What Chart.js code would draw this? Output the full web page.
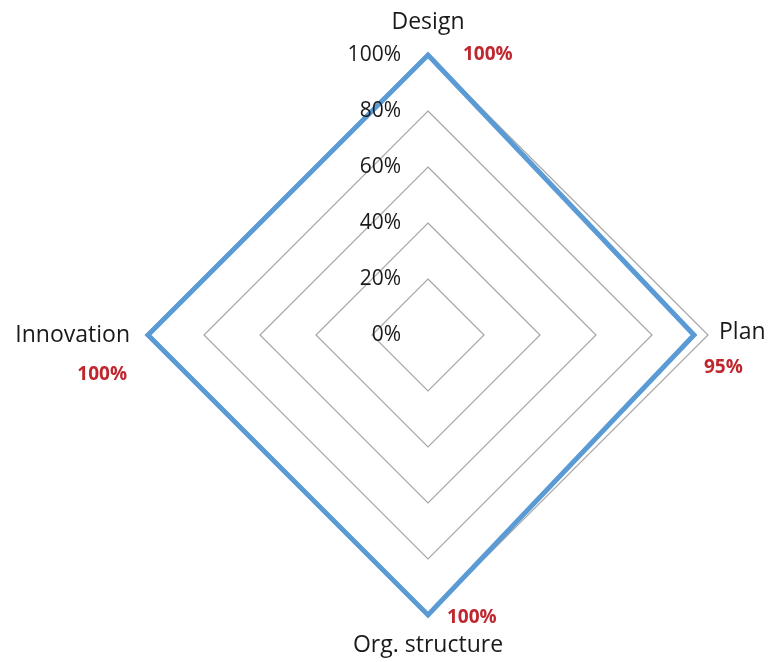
<!DOCTYPE html>
<html>
<head>
<meta charset="utf-8">
<script src="https://cdn.jsdelivr.net/npm/chart.js@4/dist/chart.umd.min.js"></script>
<style>
html,body{margin:0;padding:0;background:#fff;}
#wrap{width:769px;height:662px;position:relative;}
</style>
</head>
<body>
<div id="wrap"><canvas id="c" width="769" height="662"></canvas></div>
<script>
const categories = ["Design", "Plan", "Org. structure", "Innovation"];
const seriesValues = [100, 95, 100, 100];
const valueLabels = ["100%", "95%", "100%", "100%"];
const tickValues = [0, 20, 40, 60, 80, 100];
const tickLabels = ["0%", "20%", "40%", "60%", "80%", "100%"];

const FONT = "'Open Sans', 'Liberation Sans', sans-serif";

const textPlugin = {
  id: 'textPlugin',
  afterDraw(chart) {
    const ctx = chart.ctx;
    const s = chart.scales.r;
    ctx.save();
    // tick labels, right-aligned left of the center axis
    ctx.font = "21px " + FONT;
    ctx.fillStyle = "#1a1a1a";
    ctx.textAlign = "right";
    ctx.textBaseline = "middle";
    tickValues.forEach((v, i) => {
      const d = s.getDistanceFromCenterForValue(v);
      ctx.fillText(tickLabels[i], s.xCenter - 27, s.yCenter - d);
    });
    // category labels
    const catOff = [[0, -33, 'center'], [11, -3, 'left'], [0, 30, 'center'], [-18, 0, 'right']];
    ctx.font = "23px " + FONT;
    ctx.fillStyle = "#1a1a1a";
    categories.forEach((c, i) => {
      const p = s.getPointPosition(i, s.drawingArea);
      const o = catOff[i];
      ctx.textAlign = o[2];
      ctx.fillText(c, p.x + o[0], p.y + o[1]);
    });
    // value labels
    const valOff = [[35, 0, 'left'], [10, 33, 'left'], [19, 3, 'left'], [-21, 40, 'right']];
    ctx.font = "bold 19px " + FONT;
    ctx.fillStyle = "#C0262D";
    valueLabels.forEach((t, i) => {
      const p = s.getPointPosition(i, s.getDistanceFromCenterForValue(seriesValues[i]));
      const o = valOff[i];
      ctx.textAlign = o[2];
      ctx.fillText(t, p.x + o[0], p.y + o[1]);
    });
    ctx.restore();
  }
};

new Chart(document.getElementById('c'), {
  type: 'radar',
  data: {
    labels: categories,
    datasets: [{
      data: seriesValues,
      borderColor: '#5B9BD5',
      borderWidth: 5,
      backgroundColor: 'rgba(0,0,0,0)',
      fill: false,
      pointRadius: 0,
      pointHoverRadius: 0,
      borderJoinStyle: 'miter',
      clip: false
    }]
  },
  options: {
    responsive: false,
    animation: false,
    events: [],
    layout: { padding: { left: 148, right: 61, top: 55, bottom: 47 } },
    plugins: { legend: { display: false }, tooltip: { enabled: false } },
    scales: {
      r: {
        min: 0,
        max: 100,
        ticks: { display: false, stepSize: 20 },
        grid: { color: '#A6A6A6', lineWidth: 1.2 },
        angleLines: { display: false },
        pointLabels: { display: false }
      }
    }
  },
  plugins: [textPlugin]
});
</script>
</body>
</html>
